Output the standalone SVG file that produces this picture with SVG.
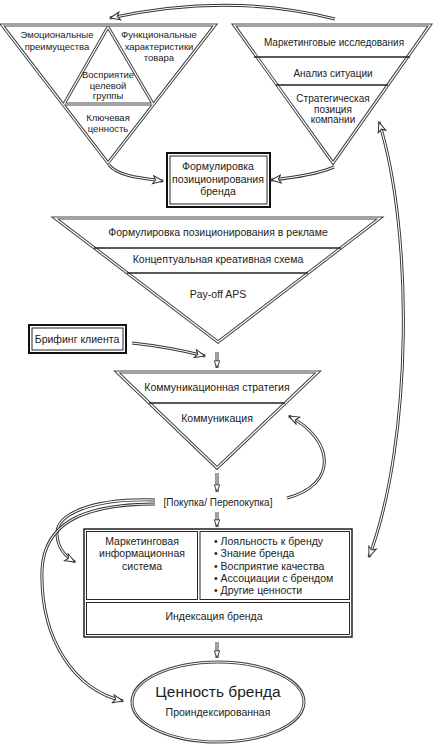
<svg xmlns="http://www.w3.org/2000/svg" width="436" height="745" viewBox="0 0 436 745">
<defs>
<style>
text{font-family:"Liberation Sans",Arial,sans-serif;fill:#222;text-anchor:middle;}
.t95{font-size:9.5px;}
.t10{font-size:10px;}
.t105{font-size:10.5px;}
.tri{fill:#fff;stroke:#444;stroke-width:3.2;stroke-linejoin:miter;}
.tri2{fill:none;stroke:#fff;stroke-width:1.2;}
.dl{fill:none;stroke:#444;stroke-width:3.2;stroke-linejoin:bevel;}
.dl2{fill:none;stroke:#fff;stroke-width:1.2;stroke-linejoin:bevel;}
.sep{stroke:#222;stroke-width:1.3;}
.lo{fill:none;stroke:#333;stroke-width:3;}
.li{fill:none;stroke:#fff;stroke-width:1.1;}
.box1{fill:#fff;stroke:#111;stroke-width:2;}
.box2{fill:none;stroke:#111;stroke-width:0.9;}
</style>
<marker id="ah" viewBox="0 0 12 10" refX="11" refY="5" markerWidth="12" markerHeight="10" markerUnits="userSpaceOnUse" orient="auto">
<path d="M1,1 L11,5 L1,9 L3.5,5 Z" fill="#fff" stroke="#333" stroke-width="1"/>
</marker>
<marker id="ahs" viewBox="0 0 10 8" refX="9" refY="4" markerWidth="9" markerHeight="8" markerUnits="userSpaceOnUse" orient="auto">
<path d="M1,1 L9,4 L1,7 Z" fill="#fff" stroke="#333" stroke-width="1"/>
</marker>
<marker id="ahb" viewBox="0 0 12 10" refX="11" refY="5" markerWidth="12" markerHeight="10" markerUnits="userSpaceOnUse" orient="auto-start-reverse">
<path d="M1,1 L11,5 L1,9 L3.5,5 Z" fill="#fff" stroke="#333" stroke-width="1"/>
</marker>
</defs>

<!-- Left triangle -->
<g id="tri-left">
<polygon class="tri" points="2,25 215,25 108,163"/>
<path class="dl" d="M108,27 L64,104 L153,104 Z"/>
<path class="dl2" d="M108,27 L64,104 L153,104 Z"/>
<polygon class="tri2" points="2,25 215,25 108,163"/>
<text class="t95" x="57" y="38">Эмоциональные</text>
<text class="t95" x="57" y="50">преимущества</text>
<text class="t95" x="159" y="38">Функциональные</text>
<text class="t95" x="159" y="50">характеристики</text>
<text class="t95" x="159" y="61">товара</text>
<text class="t95" x="108" y="78">Восприятие</text>
<text class="t95" x="108" y="89">целевой</text>
<text class="t95" x="108" y="99">группы</text>
<text class="t95" x="108" y="121">Ключевая</text>
<text class="t95" x="108" y="132">ценность</text>
</g>

<!-- Right triangle -->
<g id="tri-right">
<polygon class="tri" points="234,25 430,25 333,163"/>
<polygon class="tri2" points="234,25 430,25 333,163"/>
<line class="sep" x1="254" y1="57" x2="410" y2="57"/>
<line class="sep" x1="276" y1="85" x2="388" y2="85"/>
<text class="t10" x="334" y="46">Маркетинговые исследования</text>
<text class="t10" x="333" y="77">Анализ ситуации</text>
<text class="t10" x="333" y="102">Стратегическая</text>
<text class="t10" x="333" y="113">позиция</text>
<text class="t10" x="333" y="123">компании</text>
</g>

<!-- Positioning box -->
<g id="box-positioning">
<rect class="box1" x="167" y="153" width="103" height="54"/>
<rect class="box2" x="170" y="156" width="97" height="48"/>
<text class="t105" x="218" y="170">Формулировка</text>
<text class="t105" x="218" y="183">позиционирования</text>
<text class="t105" x="218" y="195">бренда</text>
</g>

<!-- Big triangle -->
<g id="tri-ad">
<polygon class="tri" points="55,218 380,218 218,342"/>
<polygon class="tri2" points="55,218 380,218 218,342"/>
<line class="sep" x1="94" y1="248" x2="341" y2="248"/>
<line class="sep" x1="127" y1="273" x2="308" y2="273"/>
<text class="t105" x="218" y="236">Формулировка позиционирования в рекламе</text>
<text class="t105" x="218" y="263">Концептуальная креативная схема</text>
<text class="t105" x="218" y="298">Pay-off APS</text>
</g>

<!-- Briefing -->
<g id="box-briefing">
<rect class="box1" x="29" y="325" width="97" height="28"/>
<rect class="box2" x="32" y="328" width="91" height="22"/>
<text class="t105" x="77" y="343">Брифинг клиента</text>
</g>

<!-- Communication triangle -->
<g id="tri-comm">
<polygon class="tri" points="117,372 318,372 217,468"/>
<polygon class="tri2" points="117,372 318,372 217,468"/>
<line class="sep" x1="149" y1="403" x2="285" y2="403"/>
<text class="t105" x="217" y="391">Коммуникационная стратегия</text>
<text class="t105" x="217" y="422">Коммуникация</text>
</g>

<!-- Purchase label -->
<g id="purchase">
<text class="t10" x="218" y="506">[Покупка/ Перепокупка]</text>
</g>

<!-- Main box -->
<g id="box-main">
<rect x="84" y="529" width="268" height="108" fill="#fff" stroke="#111" stroke-width="1.4"/>
<rect x="86.5" y="531.5" width="111" height="68" fill="none" stroke="#111" stroke-width="0.9"/>
<rect x="200" y="531.5" width="149.5" height="68" fill="none" stroke="#111" stroke-width="0.9"/>
<rect x="86.5" y="602.5" width="263" height="32" fill="none" stroke="#111" stroke-width="0.9"/>
<text class="t105" x="142" y="545">Маркетинговая</text>
<text class="t105" x="142" y="557">информационная</text>
<text class="t105" x="142" y="570">система</text>
<text class="t105" x="214" y="545" style="text-anchor:start">• Лояльность к бренду</text>
<text class="t105" x="214" y="557" style="text-anchor:start">• Знание бренда</text>
<text class="t105" x="214" y="570" style="text-anchor:start">• Восприятие качества</text>
<text class="t105" x="214" y="582" style="text-anchor:start">• Ассоциации с брендом</text>
<text class="t105" x="214" y="594" style="text-anchor:start">• Другие ценности</text>
<text class="t105" x="214" y="620">Индексация бренда</text>
</g>

<!-- Brand value ellipse -->
<g id="brand-value">
<ellipse cx="218" cy="702" rx="86" ry="40" fill="#fff" stroke="#444" stroke-width="3"/>
<ellipse cx="218" cy="702" rx="86" ry="40" fill="none" stroke="#fff" stroke-width="1"/>
<text x="218" y="697" style="font-size:15.5px">Ценность бренда</text>
<text class="t105" x="218" y="716">Проиндексированная</text>
</g>

<!-- Connectors -->
<g id="connectors">
<path class="lo" d="M335,19 Q230,-8 110,18"/>
<path class="li" d="M335,19 Q230,-8 110,18" marker-end="url(#ah)"/>

<path class="lo" d="M109,165 C118,176 140,178 163,181"/>
<path class="li" d="M109,165 C118,176 140,178 163,181" marker-end="url(#ah)"/>

<path class="lo" d="M334,167 C320,173 300,177 271,180"/>
<path class="li" d="M334,167 C320,173 300,177 271,180" marker-end="url(#ah)"/>

<path class="lo" d="M132,343 C160,346 185,351 205,356"/>
<path class="li" d="M132,343 C160,346 185,351 205,356" marker-end="url(#ah)"/>

<path class="lo" d="M217,352 L217,368"/>
<path class="li" d="M217,352 L217,368" marker-end="url(#ahs)"/>

<path class="lo" d="M217,473 L217,492"/>
<path class="li" d="M217,473 L217,492" marker-end="url(#ahs)"/>

<path class="lo" d="M217,512 L217,527"/>
<path class="li" d="M217,512 L217,527" marker-end="url(#ahs)"/>

<path class="lo" d="M217,642 L217,658"/>
<path class="li" d="M217,642 L217,658" marker-end="url(#ahs)"/>

<path class="lo" d="M287,498 C338,485 335,440 289,416"/>
<path class="li" d="M287,498 C338,485 335,440 289,416" marker-end="url(#ah)"/>

<path class="lo" d="M369,557 C413,440 413,230 379,122"/>
<path class="li" d="M369,557 C413,440 413,230 379,122" marker-start="url(#ahb)" marker-end="url(#ahb)"/>

<path class="lo" d="M155,500 C90,498 55,515 57,535 C58,548 64,556 75,562"/>
<path class="li" d="M155,500 C90,498 55,515 57,535 C58,548 64,556 75,562" marker-end="url(#ah)"/>

<path class="lo" d="M155,504 C80,504 44,525 42,570 C40,640 75,690 123,701"/>
<path class="li" d="M155,504 C80,504 44,525 42,570 C40,640 75,690 123,701" marker-end="url(#ah)"/>
</g>
</svg>
